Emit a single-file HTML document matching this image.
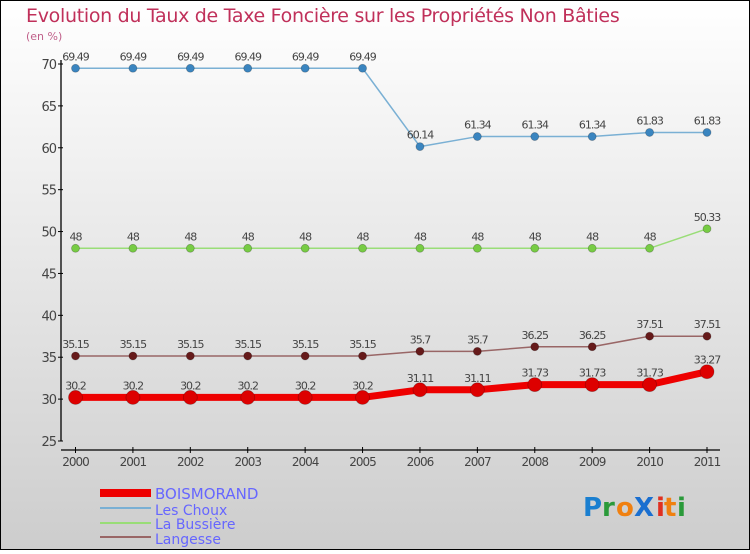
<!DOCTYPE html>
<html><head><meta charset="utf-8"><style>
body{margin:0;}
#c{width:750px;height:550px;position:relative;font-family:"DejaVu Sans","Liberation Sans",sans-serif;}
svg text{font-family:"DejaVu Sans","Liberation Sans",sans-serif;}
</style></head><body>
<div id="c">
<svg id="s" width="750" height="550" xmlns="http://www.w3.org/2000/svg">
<defs><linearGradient id="bg" x1="0" y1="0" x2="0" y2="1"><stop offset="0" stop-color="#ffffff"/><stop offset="1" stop-color="#cdcdcd"/></linearGradient></defs>
<rect x="0.5" y="0.5" width="749" height="549" fill="url(#bg)" stroke="#000"/>
<text x="26" y="22" font-size="19" fill="#c0305a" style="letter-spacing:-0.3px">Evolution du Taux de Taxe Foncière sur les Propriétés Non Bâties</text>
<text x="26" y="40" font-size="11" fill="#c0608a">(en %)</text>
<g id="axes"></g><g id="series"></g>
<g>
<rect x="100" y="489" width="51" height="8" fill="#e00"/>
<text x="155" y="499" font-size="15" fill="#6666ff">BOISMORAND</text>
<line x1="100" y1="508" x2="151" y2="508" stroke="#7ab0d4" stroke-width="2"/>
<text x="155" y="515" font-size="14" fill="#6666ff">Les Choux</text>
<line x1="100" y1="523" x2="151" y2="523" stroke="#99dd77" stroke-width="2"/>
<text x="155" y="529" font-size="14" fill="#6666ff">La Bussière</text>
<line x1="100" y1="537" x2="151" y2="537" stroke="#996666" stroke-width="2"/>
<text x="155" y="544" font-size="14" fill="#6666ff">Langesse</text>
</g>
<g font-size="26" font-weight="bold">
<text x="583" y="516" fill="#1a7fd0">P</text><text x="602" y="516" fill="#2a9a3a">r</text><text x="616" y="516" fill="#f08010">o</text><text x="634" y="516" fill="#1a6fd0">X</text><text x="656" y="516" fill="#e03020">i</text><text x="664" y="516" fill="#f08010">t</text><text x="677" y="516" fill="#2a9a3a">i</text>
</g>
</svg>
</div>
<script>
const years=[2000,2001,2002,2003,2004,2005,2006,2007,2008,2009,2010,2011];
const yTicks=[25,30,35,40,45,50,55,60,65,70];
const boismorand=[30.2,30.2,30.2,30.2,30.2,30.2,31.11,31.11,31.73,31.73,31.73,33.27];
const lesChoux=[69.49,69.49,69.49,69.49,69.49,69.49,60.14,61.34,61.34,61.34,61.83,61.83];
const laBussiere=[48,48,48,48,48,48,48,48,48,48,48,50.33];
const langesse=[35.15,35.15,35.15,35.15,35.15,35.15,35.7,35.7,36.25,36.25,37.51,37.51];
const NS="http://www.w3.org/2000/svg";
const X=i=>75.5+i*(707-75.5)/(years.length-1);
const Y=v=>441-(v-25)*(441-64)/45;
function mk(t,a,p){const e=document.createElementNS(NS,t);for(const k in a)e.setAttribute(k,a[k]);p.appendChild(e);return e;}
const ax=document.getElementById('axes');
let l=mk('line',{x1:61,y1:60,x2:61,y2:441,stroke:'#000','stroke-width':1.3},ax);


l=mk('line',{x1:61,y1:450,x2:720,y2:450,stroke:'#000','stroke-width':1.3},ax);


yTicks.forEach(v=>{mk('line',{x1:58,y1:Y(v),x2:63,y2:Y(v),stroke:'#000'},ax);
const t=mk('text',{x:56,y:Y(v)+5,'font-size':13,fill:'#444','text-anchor':'end','letter-spacing':'-1'},ax);t.textContent=v;

});
years.forEach((yr,i)=>{mk('line',{x1:X(i),y1:447,x2:X(i),y2:453,stroke:'#000'},ax);
const t=mk('text',{x:X(i),y:466,'font-size':12,fill:'#444','text-anchor':'middle','letter-spacing':'-1'},ax);t.textContent=yr;

});
const sg=document.getElementById('series');
function series(name,vals,color,dot,w,r,fs){
const g=mk('g',{},sg);


mk('polyline',{points:vals.map((v,i)=>X(i)+','+Y(v)).join(' '),fill:'none',stroke:color,'stroke-width':w,'stroke-linejoin':'round'},g);
vals.forEach((v,i)=>{const c=mk('circle',{cx:X(i),cy:Y(v),r:r,fill:dot,stroke:'rgba(0,0,0,0.25)','stroke-width':0.8},g);


const t=mk('text',{x:X(i),y:Y(v)-8,'font-size':fs,fill:'#444','text-anchor':'middle','letter-spacing':'-1'},g);t.textContent=v;

});}
series('les-choux',lesChoux,'#7ab0d4','#3a85c0',1.5,4,11);
series('la-bussiere',laBussiere,'#99dd77','#77cc44',1.5,4,11);
series('langesse',langesse,'#996666','#661a1a',1.5,4,11);
series('boismorand',boismorand,'#ee0000','#dd0000',7,7,11);
</script>
</body></html>
